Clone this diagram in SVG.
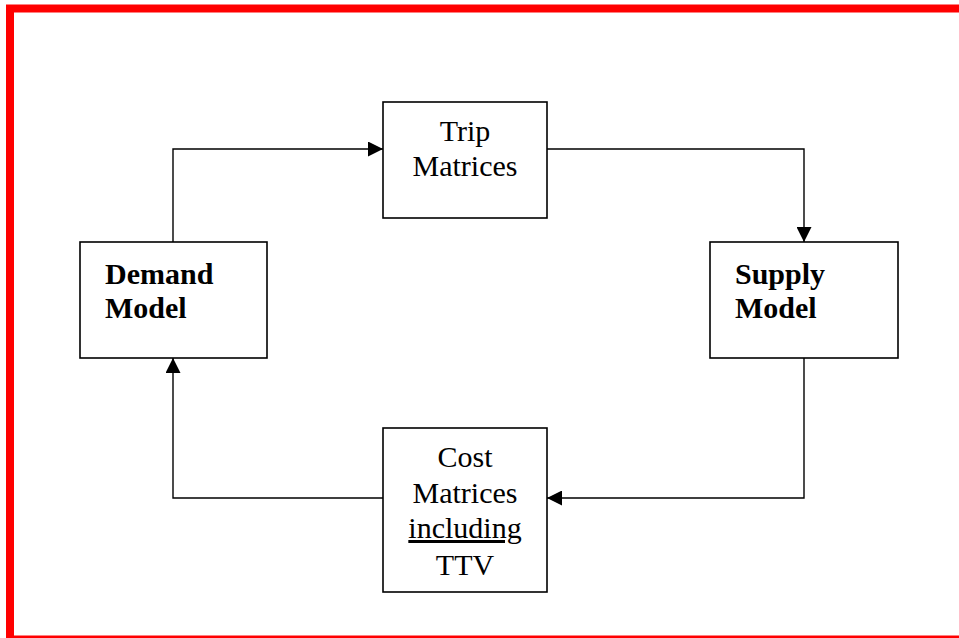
<svg xmlns="http://www.w3.org/2000/svg" width="959" height="638" viewBox="0 0 959 638">
<style>
.box{fill:#fff;stroke:#000;stroke-width:1.6}
.ln{fill:none;stroke:#000;stroke-width:1.4}
.t{font-family:"Liberation Serif","Times New Roman",serif;font-size:30px;fill:#000}
.c{text-anchor:middle}
.b{font-weight:bold}
</style>
<defs>
<marker id="ah" markerWidth="15" markerHeight="15" refX="15" refY="7.5" orient="auto" markerUnits="userSpaceOnUse">
<path d="M0,0 L15,7.5 L0,15 Z" fill="#000"/>
</marker>
</defs>
<rect x="0" y="0" width="959" height="638" fill="#fff"/>
<rect x="10" y="8.5" width="960" height="631" fill="none" stroke="#f00" stroke-width="8"/>
<g id="connectors">
<path class="ln" d="M173,242 V149 H383" marker-end="url(#ah)"/>
<path class="ln" d="M547,149 H804 V242" marker-end="url(#ah)"/>
<path class="ln" d="M804,358 V498 H547" marker-end="url(#ah)"/>
<path class="ln" d="M383,498 H173 V358" marker-end="url(#ah)"/>
</g>
<g id="trip">
<rect class="box" x="383" y="102" width="164" height="116"/>
<text class="t c" x="465" y="141">Trip</text>
<text class="t c" x="465" y="176">Matrices</text>
</g>
<g id="demand">
<rect class="box" x="80" y="242" width="187" height="116"/>
<text class="t b" x="105" y="284">Demand</text>
<text class="t b" x="105" y="318">Model</text>
</g>
<g id="supply">
<rect class="box" x="710" y="242" width="188" height="116"/>
<text class="t b" x="735" y="284">Supply</text>
<text class="t b" x="735" y="318">Model</text>
</g>
<g id="cost">
<rect class="box" x="383" y="428" width="164" height="164"/>
<text class="t c" x="465" y="467">Cost</text>
<text class="t c" x="465" y="503">Matrices</text>
<text class="t c" x="465" y="538" text-decoration="underline">including</text>
<text class="t c" x="465" y="575">TTV</text>
</g>
</svg>
